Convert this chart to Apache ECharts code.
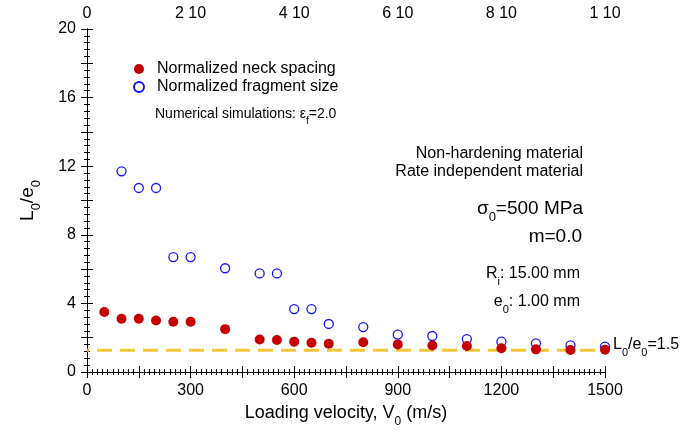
<!DOCTYPE html>
<html>
<head>
<meta charset="utf-8">
<script src="https://cdn.jsdelivr.net/npm/echarts@6/dist/echarts.min.js"></script>
<style>html,body{margin:0;padding:0;background:#fff}#c{width:684px;height:441px}</style>
</head>
<body>
<div id="c"></div>
<script>
// ---- data ----
var neckVel = [50,100,150,200,250,300,400,500,550,600,650,700,800,900,1000,1100,1200,1300,1400,1500];
var neckVal = [3.5,3.1,3.1,3.0,2.93,2.93,2.5,1.9,1.87,1.77,1.71,1.65,1.73,1.61,1.55,1.52,1.38,1.32,1.28,1.3];
var fragVel = [100,150,200,250,300,400,500,550,600,650,700,800,900,1000,1100,1200,1300,1400,1500];
var fragVal = [11.7,10.73,10.73,6.7,6.7,6.05,5.75,5.75,3.67,3.67,2.8,2.62,2.18,2.1,1.92,1.77,1.67,1.55,1.48];
var refVel = [0,1500];
var refVal = [1.27,1.27];
var topTickLabels = ['0','2 10','4 10','6 10','8 10','1 10'];

function zip(a,b){return a.map(function(v,i){return [v,b[i]];});}

var FONT = 'Liberation Sans, Arial, sans-serif';
function subRich(size, sub){
  return {
    m:{fontSize:size,fontFamily:FONT,color:'#000',verticalAlign:'bottom',lineHeight:size,padding:[0,0,Math.round(size*0.33),0]},
    s:{fontSize:sub,fontFamily:FONT,color:'#000',verticalAlign:'bottom',lineHeight:sub}
  };
}

var chart = echarts.init(document.getElementById('c'), null, {renderer:'canvas'});
var axisCommon = {
  min:0, max:1500, interval:150,
  axisLine:{lineStyle:{color:'#000',width:1}},
  axisTick:{inside:true,length:6,lineStyle:{color:'#000'}},
  minorTick:{show:true,splitNumber:10,length:3,lineStyle:{color:'#000'}},
  splitLine:{show:false}
};
var yCommon = {
  min:0, max:20, interval:2,
  axisLine:{lineStyle:{color:'#000',width:1}},
  axisTick:{inside:true,length:6,lineStyle:{color:'#000'}},
  minorTick:{show:true,splitNumber:5,length:3,lineStyle:{color:'#000'}},
  splitLine:{show:false}
};
var option = {
  animation:false,
  backgroundColor:'#fff',
  grid:{left:87,right:79,top:29,bottom:69},
  legend:{
    left:128, top:56, orient:'vertical', itemWidth:10, itemHeight:10, itemGap:2,
    textStyle:{fontSize:16,fontFamily:FONT,color:'#000',padding:[0,0,0,8]},
    data:['Normalized neck spacing','Normalized fragment size']
  },
  xAxis:[
    Object.assign({}, axisCommon, {
      type:'value', position:'bottom',
      axisLabel:{interval:1,fontSize:16,fontFamily:FONT,color:'#000',margin:11,
        formatter:function(v){return v%300===0? String(v):'';}},
      name:'{m|Loading velocity, V}{s|0}{m| (m/s)}',
      nameLocation:'middle', nameGap:35,
      nameTextStyle:{rich:subRich(18,12)}
    }),
    Object.assign({}, axisCommon, {
      type:'value', position:'top',
      axisLabel:{fontSize:16,fontFamily:FONT,color:'#000',margin:7,
        formatter:function(v){return v%300===0? topTickLabels[v/300]:'';}}
    })
  ],
  yAxis:[
    Object.assign({}, yCommon, {
      type:'value', position:'left',
      axisLabel:{interval:1,fontSize:16,fontFamily:FONT,color:'#000',margin:11,
        formatter:function(v){return v%4===0? String(v):'';}},
      name:'{m|L}{s|0}{m|/e}{s|0}',
      nameLocation:'middle', nameGap:44, nameRotate:90,
      nameTextStyle:{rich:subRich(19,13)}
    }),
    Object.assign({}, yCommon, {
      type:'value', position:'right', axisLabel:{show:false}
    })
  ],
  series:[
    {
      name:'ref', type:'line', data:zip(refVel,refVal), symbol:'none', silent:true,
      lineStyle:{color:'#f5c638',width:3,type:[15,8],dashOffset:13}, z:1
    },
    {
      name:'Normalized fragment size', type:'scatter', data:zip(fragVel,fragVal),
      symbol:'circle', symbolSize:9,
      itemStyle:{color:'rgba(255,255,255,0)',borderColor:'#1414ff',borderWidth:1.3,opacity:1}, z:2
    },
    {
      name:'Normalized neck spacing', type:'scatter', data:zip(neckVel,neckVal),
      symbol:'circle', symbolSize:10,
      itemStyle:{color:'#c40000',opacity:1}, z:3
    }
  ],
  graphic:[
    {type:'text', left:155, top:107, style:{text:'{m|Numerical simulations: ε}{s|f}{m|=2.0}', rich:subRich(14,10)}},
    {type:'text', right:101, top:146, style:{text:'Non-hardening material', font:'16px '+FONT, fill:'#000'}},
    {type:'text', right:101, top:164, style:{text:'Rate independent material', font:'16px '+FONT, fill:'#000'}},
    {type:'text', right:101, top:199, style:{text:'{m|σ}{s|0}{m|=500 MPa}', rich:subRich(19,13)}},
    {type:'text', right:102, top:227, style:{text:'{m|m=0.0}', rich:subRich(19,13)}},
    {type:'text', right:104, top:266, style:{text:'{m|R}{s|i}{m|: 15.00 mm}', rich:subRich(16,11)}},
    {type:'text', right:104, top:294, style:{text:'{m|e}{s|0}{m|: 1.00 mm}', rich:subRich(16,11)}},
    {type:'text', left:613, top:337, style:{text:'{m|L}{s|0}{m|/e}{s|0}{m|=1.5}', rich:subRich(16,11)}}
  ]
};
chart.setOption(option);
</script>
</body>
</html>
